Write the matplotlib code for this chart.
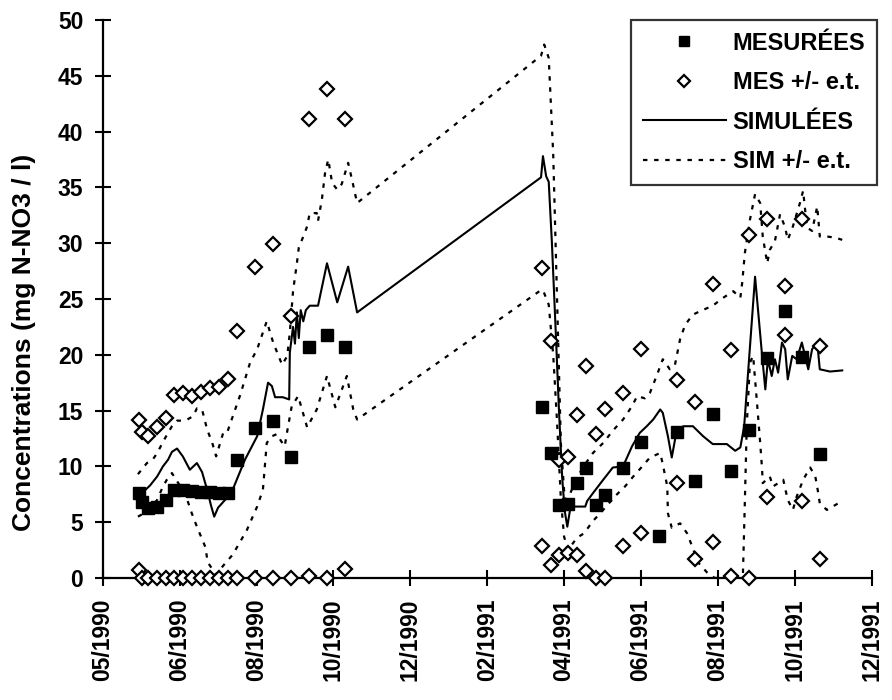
import matplotlib

matplotlib.use("Agg")
import matplotlib.pyplot as plt
import pandas as pd
from matplotlib.lines import Line2D

# days counted from 01/05/1990 (the first axis tick)
ORIGIN = pd.Timestamp("1990-05-01")
NA = float("nan")

mes_days = [28, 31, 35, 42, 49, 56, 63, 70, 77, 84, 91, 98, 105, 119, 133, 147, 161, 175, 189,
            343, 350, 356, 363, 370, 377, 385, 392, 406, 420, 434, 448, 462, 476, 490, 504,
            518, 532, 546, 560]
mes_values = [7.6, 6.8, 6.3, 6.4, 7.0, 7.9, 7.9, 7.8, 7.7, 7.7, 7.6, 7.6, 10.6, 13.4, 14.1, 10.8,
              20.7, 21.8, 20.7,
              15.3, 11.2, 6.5, 6.6, 8.5, 9.9, 6.5, 7.4, 9.9, 12.2, 3.8, 13.1, 8.7, 14.7, 9.6,
              13.3, 19.7, 23.9, 19.8, 11.1]
mes_upper = [14.2, 13.1, 12.7, 13.5, 14.3, 16.4, 16.6, 16.3, 16.7, 17.0, 17.1, 17.8, 22.1, 27.9,
             29.9, 23.5, 41.1, 43.8, 41.1,
             27.8, 21.2, 10.6, 10.8, 14.6, 19.0, 12.9, 15.1, 16.6, 20.5, NA, 17.7, 15.8, 26.3,
             20.4, 30.7, 32.2, 26.2, 32.2, 20.8]
mes_lower = [0.7, 0.0, 0.0, 0.0, 0.0, 0.0, 0.0, 0.0, 0.0, 0.0, 0.0, 0.0, 0.0, 0.0, 0.0, 0.0,
             0.2, 0.0, 0.8,
             2.9, 1.2, 2.1, 2.2, 2.1, 0.6, 0.0, 0.0, 2.9, 4.0, NA, 8.5, 1.7, 3.2, 0.2, 0.0,
             7.3, 21.8, 6.9, 1.7]

sim_days = [28, 31.5, 37, 42.5, 47, 51, 54, 58, 62.5, 68, 73.5, 77.5, 80, 81.5, 84.5, 87, 90,
            95.5, 101, 111, 120.5, 125, 129, 132, 134.5, 140.5, 145.5, 146, 148.5, 150, 151.5,
            153, 154.5, 156.5, 158.5, 161.5, 168, 175, 183, 191.5, 198.5,
            342, 343.5, 346, 348, 350.5, 353.5, 356, 358.5, 360.5, 362.5, 364.5, 367, 376.5,
            378, 382.5, 390.5, 398, 406, 413, 419, 424.5, 429.5, 435, 437, 441, 444, 447.5,
            453, 460.5, 468.5, 476, 487, 493.5, 497.5, 500.5, 509, 514.5, 517, 519, 522, 524.5,
            527, 530, 532.5, 534.5, 538, 541.5, 545.5, 548, 550.5, 553.5, 557.5, 559.5, 567.5,
            577]
sim_values = [7.2, 7.7, 8.3, 9.1, 10.0, 10.6, 11.3, 11.6, 10.9, 9.7, 10.3, 9.5, 8.5, 7.9, 6.5,
              5.5, 6.3, 7.0, 7.8, 10.6, 12.7, 15.1, 17.5, 17.2, 16.2, 16.2, 16.0, 20.2, 22.5,
              21.0, 23.8, 21.5, 24.0, 23.0, 24.0, 24.4, 24.4, 28.2, 24.7, 27.9, 23.8,
              35.9, 37.8, 36.0, 35.5, 30.0, 22.0, 15.0, 9.0, 6.0, 4.6, 6.0, 6.4, 6.4,
              6.9, 7.6, 8.8, 9.9, 10.0, 11.8, 13.0, 13.6, 14.2, 15.1, 14.8, 12.7, 10.8, 13.0,
              13.6, 13.6, 12.7, 12.0, 12.0, 11.4, 11.7, 13.6, 27.0, 19.9, 16.9, 19.6, 18.1, 19.6,
              18.4, 21.1, 20.5, 17.8, 19.9, 19.6, 21.1, 19.9, 18.7, 20.5, 21.1, 18.7, 18.5,
              18.6]

sim_hi_days = [27.5, 34.5, 39, 42.5, 48.5, 54, 58, 62, 66, 70.5, 73.5, 77.5, 81.5, 85.5, 88.5,
               94, 97, 107, 115, 120.5, 128, 133, 140, 144, 146, 148.5, 151.5, 153, 156.5,
               159.5, 161.5, 167, 168, 171, 173.5, 176, 179, 183, 186.5, 191.5, 194.5, 198.5,
               342, 344.5, 348, 351.5, 354.5, 357.5, 360.5, 364.5, 370, 377, 382.5, 390.5, 398,
               406, 413, 417, 423, 427, 432.5, 437, 442.5, 446.5, 450.5, 454.5, 460.5, 466,
               476, 484, 492, 497.5, 499, 501, 505, 509, 513, 515, 518.5, 520.5, 524.5, 528.5,
               532.5, 534.5, 538.5, 544, 546.5, 549.5, 553.5, 557.5, 559.5, 565, 571.5, 577]
sim_hi_values = [9.3, 10.3, 10.6, 11.2, 12.5, 13.6, 14.1, 14.1, 14.2, 14.5, 15.2, 15.1, 13.3,
                 12.1, 10.9, 13.0, 13.0, 16.3, 19.3, 20.5, 23.0, 21.1, 19.1, 19.9, 22.0, 25.7,
                 28.2, 29.6, 30.6, 31.5, 32.7, 32.7, 32.0, 33.9, 36.3, 37.5, 35.4, 34.8, 35.3,
                 37.2, 35.7, 33.6,
                 46.8, 47.8, 46.6, 38.0, 25.0, 12.0, 7.0, 7.5, 9.0, 10.3, 11.2, 12.1, 13.2,
                 14.2, 15.4, 16.3, 16.1, 16.6, 18.2, 19.6, 18.7, 19.1, 21.4, 22.7, 23.6, 23.9,
                 24.4, 25.1, 25.7, 25.1, 26.5, 29.1, 32.1, 34.4, 33.6, 30.6, 28.2, 29.4, 30.2,
                 32.6, 31.4, 30.3, 31.5, 33.6, 34.7, 31.4, 31.1, 33.3, 30.6, 30.6, 30.5, 30.3]

sim_lo_days = [27.5, 35.5, 42.5, 47, 50, 54, 59, 66, 69.5, 73.5, 80, 82, 85.5, 88.5, 94, 101.5,
               112.5, 120.5, 125, 126.5, 128, 132, 136, 139, 142, 144.5, 147.5, 152.5, 156.5,
               159.5, 167, 175, 181.5, 190.5, 195.5, 198.5,
               342, 343.5, 348, 351.5, 354.5, 357.5, 360, 363, 370, 375.5, 382.5, 390.5, 399.5,
               407.5, 414, 421, 427, 435, 437, 440.5, 441, 444, 450.5, 456, 460, 464.5, 471.5,
               477.5, 499.5, 501, 502.5, 505, 507.5, 510.5, 513, 514.5, 515, 520.5, 523, 531,
               534.5, 538.5, 541.5, 546.5, 552, 556, 558, 559.5, 565, 574, 577]
sim_lo_values = [5.5, 6.0, 7.0, 8.2, 8.8, 9.4, 8.5, 7.0, 5.8, 4.6, 2.8, 1.4, 0.8, 0.3, 1.1, 2.1,
                 4.3, 6.4, 7.9, 10.0, 12.1, 12.7, 12.9, 12.3, 11.8, 13.5, 15.4, 16.3, 14.7,
                 13.5, 15.1, 18.1, 15.3, 18.1, 15.1, 14.2,
                 25.8, 25.8, 24.5, 20.0, 14.0, 7.0, 3.7, 2.5, 3.6, 4.0, 5.1, 6.1, 7.3, 8.2,
                 9.1, 10.0, 10.8, 11.2, 10.2, 8.2, 5.8, 4.5, 4.9, 4.0, 2.8, 1.4, 0.5, 0.0, 0.2,
                 6.7, 13.6, 19.3, 19.9, 15.7, 12.1, 9.7, 8.5, 9.1, 8.2, 8.8, 7.0, 6.1, 7.3, 8.8,
                 9.9, 9.1, 7.8, 6.7, 6.1, 6.7, 6.9]

tick_days = list(range(0, 601, 60))
tick_labels = [(ORIGIN + pd.Timedelta(days=d)).strftime("%m/%Y") for d in tick_days]

FONT = "Liberation Sans"
dotted = (0, (2, 3))

fig = plt.figure(figsize=(8.92, 7.0), dpi=100)
ax = fig.add_axes([102.7 / 892, 122 / 700, 769 / 892, 558 / 700])

ax.plot(sim_days, sim_values, color="black", lw=1.5)
ax.plot(sim_hi_days, sim_hi_values, color="black", lw=1.6, ls=dotted)
ax.plot(sim_lo_days, sim_lo_values, color="black", lw=1.6, ls=dotted)
for vals in (mes_upper, mes_lower):
    ax.plot(mes_days, vals, ls="none", marker="D", ms=7.5, mfc="white", mec="black",
            mew=1.6, clip_on=False, zorder=3)
ax.plot(mes_days, mes_values, ls="none", marker="s", ms=9, color="black",
        clip_on=False, zorder=4)

ax.set_xlim(0, 600)
ax.set_ylim(0, 50)
ax.set_yticks(range(0, 51, 5))
ax.set_xticks(tick_days)
ax.set_xticklabels(tick_labels, rotation=90)
for s in ("top", "right"):
    ax.spines[s].set_visible(False)
for s in ("left", "bottom"):
    ax.spines[s].set_linewidth(1.6)
ax.tick_params(direction="inout", length=12, width=1.5, labelsize=16.5)
ax.tick_params(axis="x", pad=9)
ax.tick_params(axis="y", pad=8)
for lab in ax.get_xticklabels() + ax.get_yticklabels():
    lab.set_family(FONT)
    lab.set_fontweight("bold")

fig.text(24 / 892, 1 - 342 / 700, "Concentrations (mg N-NO3 / l)", rotation=90,
         ha="center", va="center", family=FONT, fontweight="bold", fontsize=19)

handles = [
    Line2D([], [], ls="none", marker="s", ms=7, color="black"),
    Line2D([], [], ls="none", marker="D", ms=6, mfc="white", mec="black", mew=1.6),
    Line2D([], [], color="black", lw=1.5),
    Line2D([], [], color="black", lw=1.6, ls=dotted),
]
labels = ["MESURÉES", "MES +/- e.t.", "SIMULÉES", "SIM +/- e.t."]
leg = fig.legend(handles, labels, loc="upper right", bbox_to_anchor=(889 / 892, 1 - 8 / 700),
                 frameon=True, fancybox=False, handlelength=3.5, handletextpad=0.3,
                 borderpad=0.5, labelspacing=0.7,
                 prop={"family": FONT, "weight": "bold", "size": 17})
leg.get_frame().set_edgecolor("black")
leg.get_frame().set_linewidth(1.6)

fig.savefig("out.png", dpi=100)
